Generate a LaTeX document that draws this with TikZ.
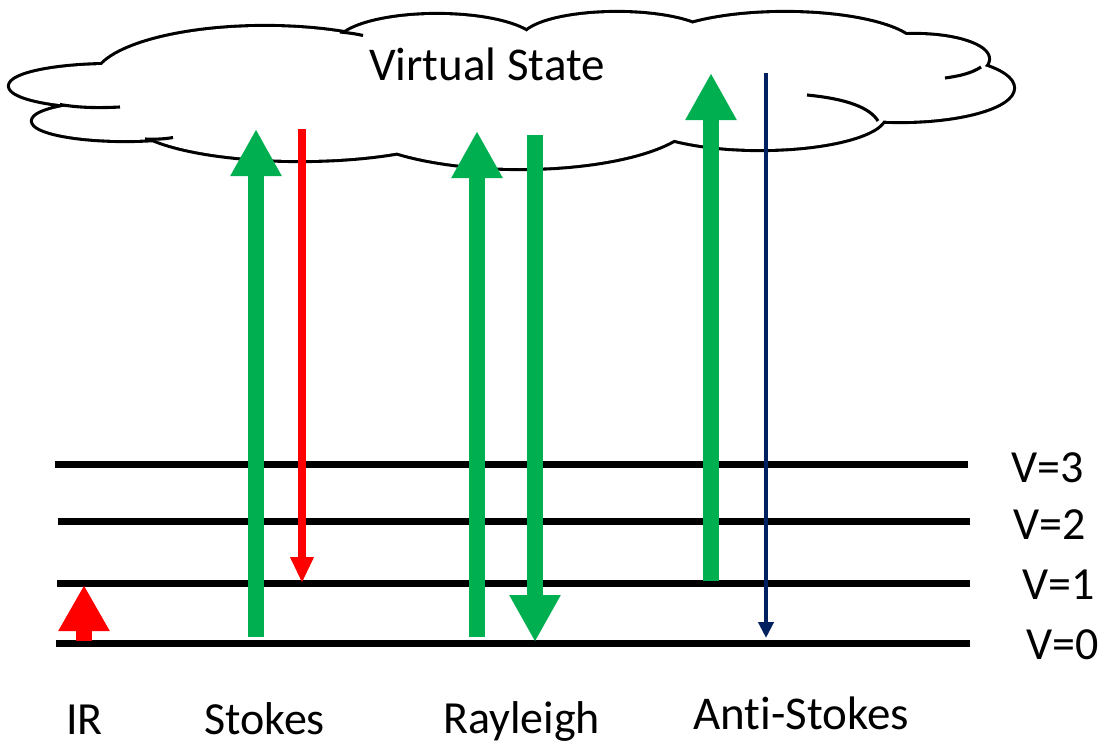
\documentclass[tikz,border=0pt]{standalone}
\usepackage{fontspec}
\setmainfont{Carlito}[Ligatures=NoCommon]
\usetikzlibrary{arrows.meta}
\definecolor{ggreen}{HTML}{00B050}
\definecolor{rred}{HTML}{FF0000}
\definecolor{nnavy}{HTML}{002060}
\begin{document}
\begin{tikzpicture}[x=1pt,y=-1pt,
  level/.style={line width=7pt},
  lab/.style={font=\fontsize{46}{50}\selectfont, anchor=base west, inner sep=0pt},
  cloudstroke/.style={line width=6.2pt},
  cloudinner/.style={line width=3.1pt},
  bigarrow/.style={ggreen, line width=16pt, -{Triangle[width=48pt 0 0,length=47pt 0 0]}},
  redarrow/.style={rred, line width=8pt, -{Triangle[width=22pt 0 0,length=26pt 0 0]}},
  navyarrow/.style={nnavy, line width=4.5pt, -{Triangle[width=15pt 0 0,length=16pt 0 0]}},
  irarrow/.style={rred, line width=16pt, -{Triangle[width=48pt 0 0,length=46pt 0 0]}}
]
\useasboundingbox (0,0) rectangle (1100,744);

% ---------- cloud (union of ellipses) ----------
\def\cloudellipses{%
  (112,86) ellipse [x radius=102, y radius=21]
  (125,121) ellipse [x radius=92, y radius=19]
  (300,118) ellipse [x radius=170, y radius=42]
  (520,115) ellipse [x radius=174, y radius=53]
  (760,115) ellipse [x radius=125, y radius=34]
  (900,88) ellipse [x radius=113, y radius=33]
  (915,59) ellipse [x radius=73, y radius=24]
  (785,50) ellipse [x radius=132, y radius=37]
  (617,40) ellipse [x radius=95, y radius=27]
  (437,45) ellipse [x radius=100, y radius=30]
  (265,80) ellipse [x radius=170, y radius=53]}
\draw[cloudstroke] \cloudellipses;
\fill[white] \cloudellipses;
\fill[white] (110,70) -- (342,40) -- (529,35) -- (695,30) -- (900,40) -- (970,70)
  -- (875,118) -- (678,133) -- (385,143) -- (155,132) -- (70,100) -- cycle;
% inner strokes
\draw[cloudinner] (60,104.5) .. controls (80,108) and (100,108) .. (120,107);
\draw[cloudinner] (145,139) .. controls (155,139.5) and (165,139) .. (173,137.5);
\draw[cloudinner] (878,121) .. controls (870,108) and (848,99) .. (807,95);
\draw[cloudinner] (981,67) .. controls (972,73) and (960,76) .. (945,78);
\draw[cloudinner] (340,32) .. controls (350,33) and (357,34) .. (363,35.5);
\node[font=\fontsize{47}{52}\selectfont, anchor=base, inner sep=0pt] (vs) at (487,80) {Virtual State};

% ---------- energy levels ----------
\coordinate (v3a) at (55,464.5);  \coordinate (v3b) at (968,464.5);
\coordinate (v2a) at (58,521.5);  \coordinate (v2b) at (970,521.5);
\coordinate (v1a) at (57,583);    \coordinate (v1b) at (970,583);
\coordinate (v0a) at (56,643);    \coordinate (v0b) at (970,643);
\draw[level] (v3a) -- (v3b);
\draw[level] (v2a) -- (v2b);
\draw[level] (v1a) -- (v1b);
\draw[level] (v0a) -- (v0b);

\node[lab] (l3) at (1011,482) {V=3};
\node[lab] (l2) at (1013,539) {V=2};
\node[lab] (l1) at (1022,599) {V=1};
\node[lab] (l0) at (1026,659) {V=0};

% ---------- transitions ----------
\coordinate (ir0) at (84,641);   \coordinate (ir1) at (84,585);
\coordinate (su0) at (256,637);  \coordinate (su1) at (256,129);
\coordinate (sd0) at (302,129);  \coordinate (sd1) at (302,583);
\coordinate (ru0) at (477,637);  \coordinate (ru1) at (477,131);
\coordinate (rd0) at (535,135);  \coordinate (rd1) at (535,642);
\coordinate (au0) at (711,581);  \coordinate (au1) at (711,73);
\coordinate (ad0) at (766,73);   \coordinate (ad1) at (766,638);

\draw[irarrow] (ir0) -- (ir1);
\draw[bigarrow] (su0) -- (su1);
\draw[redarrow] (sd0) -- (sd1);
\draw[bigarrow] (ru0) -- (ru1);
\draw[bigarrow] (rd0) -- (rd1);
\draw[bigarrow] (au0) -- (au1);
\draw[navyarrow] (ad0) -- (ad1);

% ---------- bottom labels ----------
\node[lab] (tir) at (66,734) {IR};
\node[lab] (tst) at (204,734) {Stokes};
\node[lab] (tra) at (443,733) {Rayleigh};
\node[lab, font=\fontsize{47}{50}\selectfont] (tas) at (693,729) {Anti-Stokes};
\end{tikzpicture}
\end{document}
